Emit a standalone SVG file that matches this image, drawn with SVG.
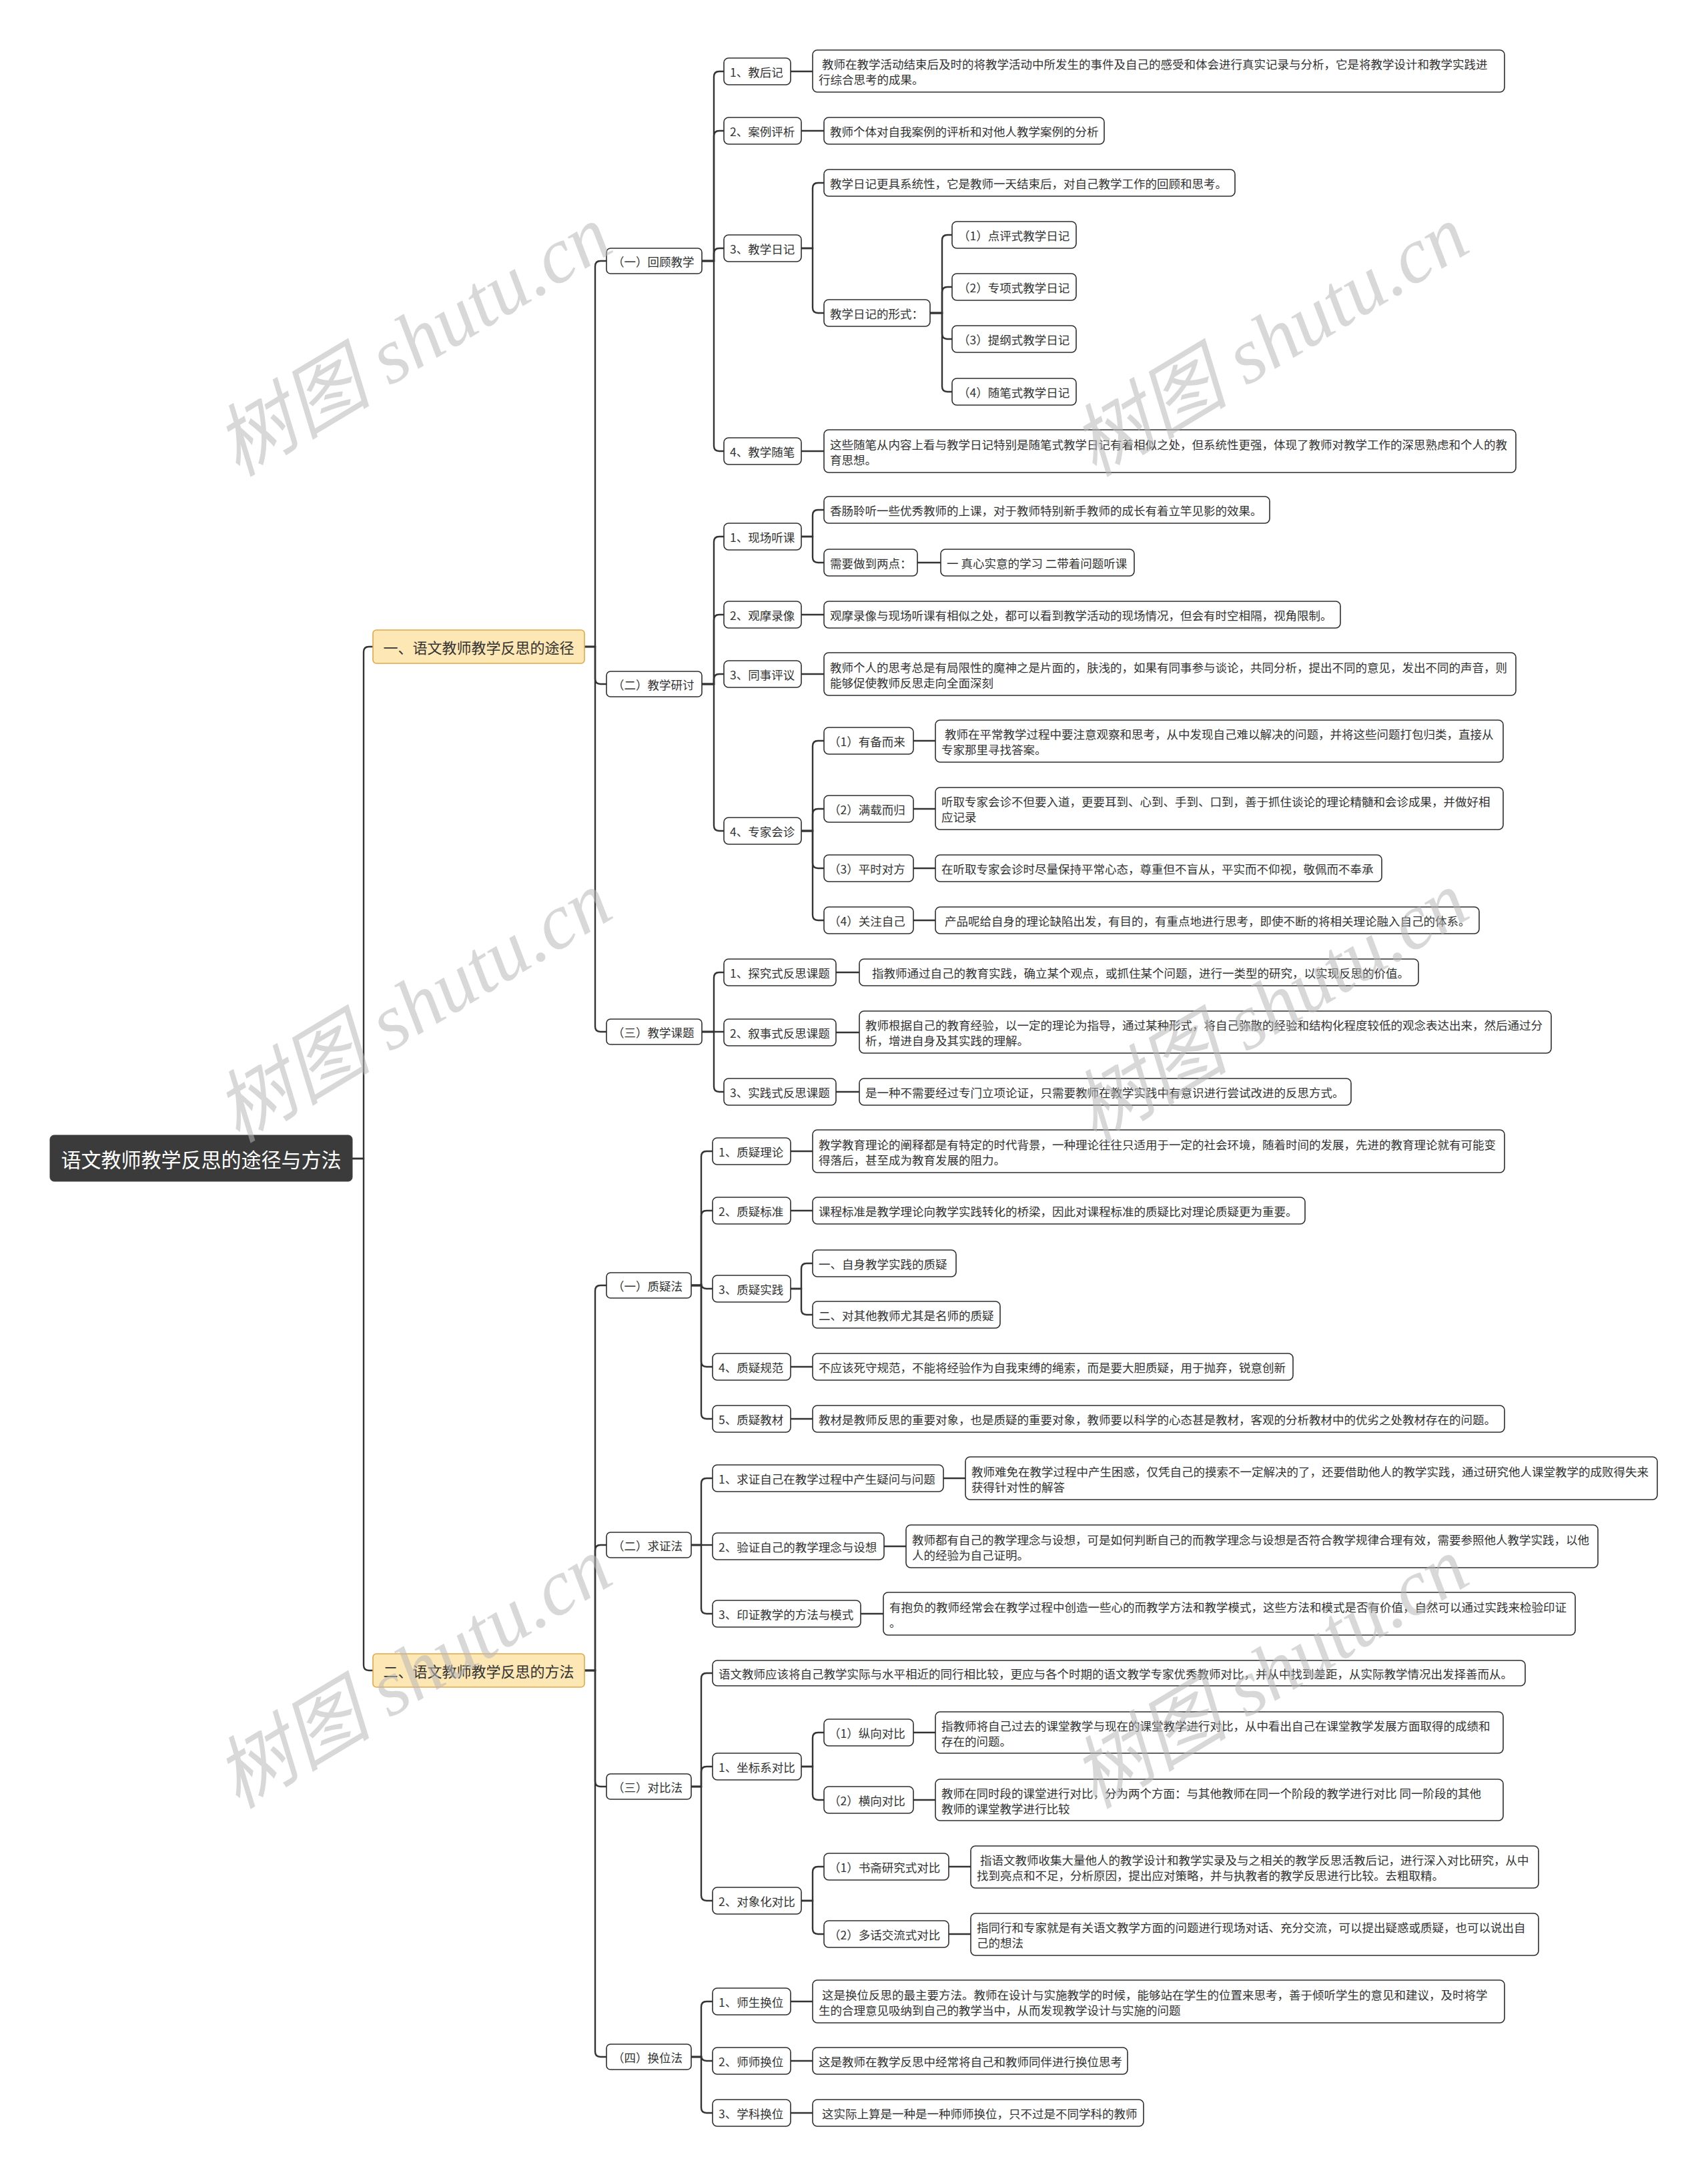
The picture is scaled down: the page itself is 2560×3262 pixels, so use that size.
<svg xmlns="http://www.w3.org/2000/svg" width="2560" height="3262" viewBox="0 0 2560 3262">
<style>
.bg{fill:#ffffff}
.n{fill:#ffffff;stroke:#2e2e2e;stroke-width:1.6}
.t{font-family:"Noto Sans CJK SC","Noto Sans",sans-serif;font-size:17.5px;fill:#333333;dominant-baseline:central}
.l1{fill:#fde7b4;stroke:#dfa84a;stroke-width:1.6}
.t1{font-family:"Noto Sans CJK SC","Noto Sans",sans-serif;font-size:22px;fill:#333333;dominant-baseline:central;text-anchor:middle}
.root{fill:#3b3b3b;stroke:#3b3b3b}
.t0{font-family:"Noto Sans CJK SC","Noto Sans",sans-serif;font-size:30px;fill:#ffffff;dominant-baseline:central;text-anchor:middle}
.c path{fill:none;stroke:#333333;stroke-width:2.4}
.wm{font-family:"Liberation Serif","Noto Sans CJK SC",serif;font-style:italic;font-size:118px;fill:#b8b8b8;fill-opacity:0.55;text-anchor:middle}
</style>
<rect class="bg" x="0" y="0" width="2560" height="3262"/>

<g class="c" id="connectors">
<path d="M528 1736 H545 V977 Q545 969 553 969 H559"/>
<path d="M528 1736 H545 V2495 Q545 2503 553 2503 H559"/>
<path d="M876 969 H892 V399 Q892 391 900 391 H909"/>
<path d="M876 969 H892 V1017 Q892 1025 900 1025 H909"/>
<path d="M876 969 H892 V1538 Q892 1546 900 1546 H909"/>
<path d="M876 2503 H892 V1934 Q892 1926 900 1926 H909"/>
<path d="M876 2503 H892 V2323 Q892 2315 900 2315 H909"/>
<path d="M876 2503 H892 V2669 Q892 2677 900 2677 H909"/>
<path d="M876 2503 H892 V3074 Q892 3082 900 3082 H909"/>
<path d="M1052 391 H1070 V115 Q1070 107 1078 107 H1085"/>
<path d="M1052 391 H1070 V204 Q1070 196 1078 196 H1085"/>
<path d="M1052 391 H1070 V380 Q1070 372 1078 372 H1085"/>
<path d="M1052 391 H1070 V668 Q1070 676 1078 676 H1085"/>
<path d="M1052 1025 H1070 V812 Q1070 804 1078 804 H1085"/>
<path d="M1052 1025 H1070 V929 Q1070 921 1078 921 H1085"/>
<path d="M1052 1025 H1070 V1018 Q1070 1010 1078 1010 H1085"/>
<path d="M1052 1025 H1070 V1237 Q1070 1245 1078 1245 H1085"/>
<path d="M1052 1546 H1070 V1465 Q1070 1457 1078 1457 H1085"/>
<path d="M1052 1546 H1085"/>
<path d="M1052 1546 H1070 V1628 Q1070 1636 1078 1636 H1085"/>
<path d="M1036 1926 H1051 V1733 Q1051 1725 1059 1725 H1068"/>
<path d="M1036 1926 H1051 V1822 Q1051 1814 1059 1814 H1068"/>
<path d="M1036 1926 H1051 V1923 Q1051 1931 1059 1931 H1068"/>
<path d="M1036 1926 H1051 V2040 Q1051 2048 1059 2048 H1068"/>
<path d="M1036 1926 H1051 V2118 Q1051 2126 1059 2126 H1068"/>
<path d="M1036 2315 H1051 V2223 Q1051 2215 1059 2215 H1068"/>
<path d="M1036 2315 H1068"/>
<path d="M1036 2315 H1051 V2410 Q1051 2418 1059 2418 H1068"/>
<path d="M1036 2677 H1051 V2515 Q1051 2507 1059 2507 H1068"/>
<path d="M1036 2677 H1051 V2655 Q1051 2647 1059 2647 H1068"/>
<path d="M1036 2677 H1051 V2840 Q1051 2848 1059 2848 H1068"/>
<path d="M1036 3082 H1051 V3007 Q1051 2999 1059 2999 H1068"/>
<path d="M1036 3082 H1051 V3080 Q1051 3088 1059 3088 H1068"/>
<path d="M1036 3082 H1051 V3158 Q1051 3166 1059 3166 H1068"/>
<path d="M1185 107 H1218"/>
<path d="M1201 196 H1235"/>
<path d="M1201 676 H1235"/>
<path d="M1201 921 H1235"/>
<path d="M1201 1010 H1235"/>
<path d="M1253 1457 H1288"/>
<path d="M1253 1547 H1288"/>
<path d="M1253 1636 H1288"/>
<path d="M1185 1725 H1218"/>
<path d="M1185 1814 H1218"/>
<path d="M1185 2048 H1218"/>
<path d="M1185 2126 H1218"/>
<path d="M1414 2215 H1447"/>
<path d="M1325 2317 H1358"/>
<path d="M1290 2418 H1324"/>
<path d="M1185 2999 H1218"/>
<path d="M1185 3088 H1218"/>
<path d="M1185 3166 H1218"/>
<path d="M1375 843 H1410"/>
<path d="M1369 1110 H1402"/>
<path d="M1369 1212 H1402"/>
<path d="M1369 1301 H1402"/>
<path d="M1369 1379 H1402"/>
<path d="M1369 2596 H1402"/>
<path d="M1369 2697 H1402"/>
<path d="M1422 2797 H1455"/>
<path d="M1422 2898 H1455"/>
<path d="M1201 372 H1218 V282 Q1218 274 1226 274 H1235"/>
<path d="M1201 372 H1218 V461 Q1218 469 1226 469 H1235"/>
<path d="M1394 469 H1412 V360 Q1412 352 1420 352 H1427"/>
<path d="M1394 469 H1412 V438 Q1412 430 1420 430 H1427"/>
<path d="M1394 469 H1412 V500 Q1412 508 1420 508 H1427"/>
<path d="M1394 469 H1412 V579 Q1412 587 1420 587 H1427"/>
<path d="M1201 804 H1218 V772 Q1218 764 1226 764 H1235"/>
<path d="M1201 804 H1218 V835 Q1218 843 1226 843 H1235"/>
<path d="M1201 1245 H1218 V1118 Q1218 1110 1226 1110 H1235"/>
<path d="M1201 1245 H1218 V1220 Q1218 1212 1226 1212 H1235"/>
<path d="M1201 1245 H1218 V1293 Q1218 1301 1226 1301 H1235"/>
<path d="M1201 1245 H1218 V1371 Q1218 1379 1226 1379 H1235"/>
<path d="M1185 1931 H1201 V1901 Q1201 1893 1209 1893 H1218"/>
<path d="M1185 1931 H1201 V1962 Q1201 1970 1209 1970 H1218"/>
<path d="M1201 2647 H1218 V2604 Q1218 2596 1226 2596 H1235"/>
<path d="M1201 2647 H1218 V2689 Q1218 2697 1226 2697 H1235"/>
<path d="M1201 2848 H1218 V2805 Q1218 2797 1226 2797 H1235"/>
<path d="M1201 2848 H1218 V2890 Q1218 2898 1226 2898 H1235"/>
</g>

<g id="root"><rect class="root" x="75" y="1701" width="453" height="69" rx="6"/><text class="t0" x="301.5" y="1736">语文教师教学反思的途径与方法</text></g>

<g id="l1-a"><rect class="l1" x="559" y="944" width="317" height="50" rx="5"/><text class="t1" x="717.5" y="969">一、语文教师教学反思的途径</text></g>
<g id="l1-b"><rect class="l1" x="559" y="2478" width="317" height="50" rx="5"/><text class="t1" x="717.5" y="2503">二、语文教师教学反思的方法</text></g>

<g id="l2-1"><rect class="n" x="909" y="372" width="143" height="38" rx="6"/><text class="t" x="918" y="391">（一）回顾教学</text></g>
<g id="l2-2"><rect class="n" x="909" y="1006" width="143" height="38" rx="6"/><text class="t" x="918" y="1025">（二）教学研讨</text></g>
<g id="l2-3"><rect class="n" x="909" y="1527" width="143" height="38" rx="6"/><text class="t" x="918" y="1546">（三）教学课题</text></g>
<g id="l2-4"><rect class="n" x="909" y="1907" width="127" height="38" rx="6"/><text class="t" x="918" y="1926">（一）质疑法</text></g>
<g id="l2-5"><rect class="n" x="909" y="2296" width="127" height="38" rx="6"/><text class="t" x="918" y="2315">（二）求证法</text></g>
<g id="l2-6"><rect class="n" x="909" y="2658" width="127" height="38" rx="6"/><text class="t" x="918" y="2677">（三）对比法</text></g>
<g id="l2-7"><rect class="n" x="909" y="3063" width="127" height="38" rx="6"/><text class="t" x="918" y="3082">（四）换位法</text></g>

<g id="n-jhj"><rect class="n" x="1085" y="87" width="100" height="40" rx="7"/><text class="t" x="1094" y="107">1、教后记</text></g>
<g id="d-jhj"><rect class="n" x="1218" y="75" width="1037" height="63" rx="7"/><text class="t"><tspan x="1232" y="95">教师在教学活动结束后及时的将教学活动中所发生的事件及自己的感受和体会进行真实记录与分析，它是将教学设计和教学实践进</tspan><tspan x="1227" y="118">行综合思考的成果。</tspan></text></g>
<g id="n-alpx"><rect class="n" x="1085" y="176" width="116" height="40" rx="7"/><text class="t" x="1094" y="196">2、案例评析</text></g>
<g id="d-alpx"><rect class="n" x="1235" y="176" width="420" height="40" rx="7"/><text class="t" x="1244" y="196">教师个体对自我案例的评析和对他人教学案例的分析</text></g>
<g id="n-jxrj"><rect class="n" x="1085" y="352" width="116" height="40" rx="7"/><text class="t" x="1094" y="372">3、教学日记</text></g>
<g id="d-jxrj1"><rect class="n" x="1235" y="254" width="616" height="40" rx="7"/><text class="t" x="1244" y="274">教学日记更具系统性，它是教师一天结束后，对自己教学工作的回顾和思考。</text></g>
<g id="n-xs"><rect class="n" x="1235" y="449" width="159" height="40" rx="7"/><text class="t" x="1244" y="469">教学日记的形式：</text></g>
<g id="n-xs1"><rect class="n" x="1427" y="332" width="186" height="40" rx="7"/><text class="t" x="1436" y="352">（1）点评式教学日记</text></g>
<g id="n-xs2"><rect class="n" x="1427" y="410" width="186" height="40" rx="7"/><text class="t" x="1436" y="430">（2）专项式教学日记</text></g>
<g id="n-xs3"><rect class="n" x="1427" y="488" width="186" height="40" rx="7"/><text class="t" x="1436" y="508">（3）提纲式教学日记</text></g>
<g id="n-xs4"><rect class="n" x="1427" y="567" width="186" height="40" rx="7"/><text class="t" x="1436" y="587">（4）随笔式教学日记</text></g>
<g id="n-jxsb"><rect class="n" x="1085" y="656" width="116" height="40" rx="7"/><text class="t" x="1094" y="676">4、教学随笔</text></g>
<g id="d-jxsb"><rect class="n" x="1235" y="644" width="1037" height="64" rx="7"/><text class="t"><tspan x="1244" y="664.5">这些随笔从内容上看与教学日记特别是随笔式教学日记有着相似之处，但系统性更强，体现了教师对教学工作的深思熟虑和个人的教</tspan><tspan x="1244" y="687.5">育思想。</tspan></text></g>

<g id="n-xctk"><rect class="n" x="1085" y="784" width="116" height="40" rx="7"/><text class="t" x="1094" y="804">1、现场听课</text></g>
<g id="d-xctk1"><rect class="n" x="1235" y="744" width="668" height="40" rx="7"/><text class="t" x="1244" y="764">香肠聆听一些优秀教师的上课，对于教师特别新手教师的成长有着立竿见影的效果。</text></g>
<g id="n-ld"><rect class="n" x="1235" y="823" width="140" height="40" rx="7"/><text class="t" x="1244" y="843">需要做到两点：</text></g>
<g id="d-ld"><rect class="n" x="1410" y="823" width="290" height="40" rx="7"/><text class="t" x="1419" y="843">一 真心实意的学习 二带着问题听课</text></g>
<g id="n-gmlx"><rect class="n" x="1085" y="901" width="116" height="40" rx="7"/><text class="t" x="1094" y="921">2、观摩录像</text></g>
<g id="d-gmlx"><rect class="n" x="1235" y="901" width="774" height="40" rx="7"/><text class="t" x="1244" y="921">观摩录像与现场听课有相似之处，都可以看到教学活动的现场情况，但会有时空相隔，视角限制。</text></g>
<g id="n-tspy"><rect class="n" x="1085" y="990" width="116" height="40" rx="7"/><text class="t" x="1094" y="1010">3、同事评议</text></g>
<g id="d-tspy"><rect class="n" x="1235" y="978" width="1037" height="64" rx="7"/><text class="t"><tspan x="1244" y="998.5">教师个人的思考总是有局限性的魔神之是片面的，肤浅的，如果有同事参与谈论，共同分析，提出不同的意见，发出不同的声音，则</tspan><tspan x="1244" y="1021.5">能够促使教师反思走向全面深刻</tspan></text></g>
<g id="n-zjhz"><rect class="n" x="1085" y="1225" width="116" height="40" rx="7"/><text class="t" x="1094" y="1245">4、专家会诊</text></g>
<g id="n-ybel"><rect class="n" x="1235" y="1090" width="134" height="40" rx="7"/><text class="t" x="1242" y="1110">（1）有备而来</text></g>
<g id="d-ybel"><rect class="n" x="1402" y="1079" width="851" height="63" rx="7"/><text class="t"><tspan x="1416" y="1099">教师在平常教学过程中要注意观察和思考，从中发现自己难以解决的问题，并将这些问题打包归类，直接从</tspan><tspan x="1411" y="1122">专家那里寻找答案。</tspan></text></g>
<g id="n-mzeg"><rect class="n" x="1235" y="1192" width="134" height="40" rx="7"/><text class="t" x="1242" y="1212">（2）满载而归</text></g>
<g id="d-mzeg"><rect class="n" x="1402" y="1180" width="851" height="63" rx="7"/><text class="t"><tspan x="1411" y="1200">听取专家会诊不但要入道，更要耳到、心到、手到、口到，善于抓住谈论的理论精髓和会诊成果，并做好相</tspan><tspan x="1411" y="1223">应记录</tspan></text></g>
<g id="n-psdf"><rect class="n" x="1235" y="1281" width="134" height="40" rx="7"/><text class="t" x="1242" y="1301">（3）平时对方</text></g>
<g id="d-psdf"><rect class="n" x="1402" y="1281" width="669" height="40" rx="7"/><text class="t" x="1411" y="1301">在听取专家会诊时尽量保持平常心态，尊重但不盲从，平实而不仰视，敬佩而不奉承</text></g>
<g id="n-gzzj"><rect class="n" x="1235" y="1359" width="134" height="40" rx="7"/><text class="t" x="1242" y="1379">（4）关注自己</text></g>
<g id="d-gzzj"><rect class="n" x="1402" y="1359" width="815" height="40" rx="7"/><text class="t" x="1416" y="1379">产品呢给自身的理论缺陷出发，有目的，有重点地进行思考，即使不断的将相关理论融入自己的体系。</text></g>

<g id="n-tjs"><rect class="n" x="1085" y="1437" width="168" height="40" rx="7"/><text class="t" x="1094" y="1457">1、探究式反思课题</text></g>
<g id="d-tjs"><rect class="n" x="1288" y="1437" width="838" height="40" rx="7"/><text class="t" x="1307" y="1457">指教师通过自己的教育实践，确立某个观点，或抓住某个问题，进行一类型的研究，以实现反思的价值。</text></g>
<g id="n-xss"><rect class="n" x="1085" y="1527" width="168" height="40" rx="7"/><text class="t" x="1094" y="1547">2、叙事式反思课题</text></g>
<g id="d-xss"><rect class="n" x="1288" y="1515" width="1037" height="63" rx="7"/><text class="t"><tspan x="1297" y="1535">教师根据自己的教育经验，以一定的理论为指导，通过某种形式，将自己弥散的经验和结构化程度较低的观念表达出来，然后通过分</tspan><tspan x="1297" y="1558">析，增进自身及其实践的理解。</tspan></text></g>
<g id="n-sjs"><rect class="n" x="1085" y="1616" width="168" height="40" rx="7"/><text class="t" x="1094" y="1636">3、实践式反思课题</text></g>
<g id="d-sjs"><rect class="n" x="1288" y="1616" width="737" height="40" rx="7"/><text class="t" x="1297" y="1636">是一种不需要经过专门立项论证，只需要教师在教学实践中有意识进行尝试改进的反思方式。</text></g>

<g id="n-zyll"><rect class="n" x="1068" y="1705" width="117" height="40" rx="7"/><text class="t" x="1077" y="1725">1、质疑理论</text></g>
<g id="d-zyll"><rect class="n" x="1218" y="1693" width="1037" height="64" rx="7"/><text class="t"><tspan x="1227" y="1713.5">教学教育理论的阐释都是有特定的时代背景，一种理论往往只适用于一定的社会环境，随着时间的发展，先进的教育理论就有可能变</tspan><tspan x="1227" y="1736.5">得落后，甚至成为教育发展的阻力。</tspan></text></g>
<g id="n-zybz"><rect class="n" x="1068" y="1794" width="117" height="40" rx="7"/><text class="t" x="1077" y="1814">2、质疑标准</text></g>
<g id="d-zybz"><rect class="n" x="1218" y="1794" width="738" height="40" rx="7"/><text class="t" x="1227" y="1814">课程标准是教学理论向教学实践转化的桥梁，因此对课程标准的质疑比对理论质疑更为重要。</text></g>
<g id="n-zysj"><rect class="n" x="1068" y="1911" width="117" height="40" rx="7"/><text class="t" x="1077" y="1931">3、质疑实践</text></g>
<g id="n-zysj1"><rect class="n" x="1218" y="1873" width="215" height="40" rx="7"/><text class="t" x="1227" y="1893">一、自身教学实践的质疑</text></g>
<g id="n-zysj2"><rect class="n" x="1218" y="1950" width="281" height="40" rx="7"/><text class="t" x="1227" y="1970">二、对其他教师尤其是名师的质疑</text></g>
<g id="n-zygf"><rect class="n" x="1068" y="2028" width="117" height="40" rx="7"/><text class="t" x="1077" y="2048">4、质疑规范</text></g>
<g id="d-zygf"><rect class="n" x="1218" y="2028" width="720" height="40" rx="7"/><text class="t" x="1227" y="2048">不应该死守规范，不能将经验作为自我束缚的绳索，而是要大胆质疑，用于抛弃，锐意创新</text></g>
<g id="n-zyjc"><rect class="n" x="1068" y="2106" width="117" height="40" rx="7"/><text class="t" x="1077" y="2126">5、质疑教材</text></g>
<g id="d-zyjc"><rect class="n" x="1218" y="2106" width="1037" height="40" rx="7"/><text class="t" x="1227" y="2126">教材是教师反思的重要对象，也是质疑的重要对象，教师要以科学的心态甚是教材，客观的分析教材中的优劣之处教材存在的问题。</text></g>

<g id="n-qz1"><rect class="n" x="1068" y="2195" width="346" height="40" rx="7"/><text class="t" x="1077" y="2215">1、求证自己在教学过程中产生疑问与问题</text></g>
<g id="d-qz1"><rect class="n" x="1447" y="2183" width="1037" height="64" rx="7"/><text class="t"><tspan x="1456" y="2203.5">教师难免在教学过程中产生困惑，仅凭自己的摸索不一定解决的了，还要借助他人的教学实践，通过研究他人课堂教学的成败得失来</tspan><tspan x="1456" y="2226.5">获得针对性的解答</tspan></text></g>
<g id="n-qz2"><rect class="n" x="1068" y="2297" width="257" height="40" rx="7"/><text class="t" x="1077" y="2317">2、验证自己的教学理念与设想</text></g>
<g id="d-qz2"><rect class="n" x="1358" y="2285" width="1037" height="64" rx="7"/><text class="t"><tspan x="1367" y="2305.5">教师都有自己的教学理念与设想，可是如何判断自己的而教学理念与设想是否符合教学规律合理有效，需要参照他人教学实践，以他</tspan><tspan x="1367" y="2328.5">人的经验为自己证明。</tspan></text></g>
<g id="n-qz3"><rect class="n" x="1068" y="2398" width="222" height="40" rx="7"/><text class="t" x="1077" y="2418">3、印证教学的方法与模式</text></g>
<g id="d-qz3"><rect class="n" x="1324" y="2386" width="1037" height="64" rx="7"/><text class="t"><tspan x="1333" y="2406.5">有抱负的教师经常会在教学过程中创造一些心的而教学方法和教学模式，这些方法和模式是否有价值，自然可以通过实践来检验印证</tspan><tspan x="1333" y="2429.5">。</tspan></text></g>

<g id="d-db0"><rect class="n" x="1068" y="2488" width="1218" height="38" rx="7"/><text class="t" x="1077" y="2507">语文教师应该将自己教学实际与水平相近的同行相比较，更应与各个时期的语文教学专家优秀教师对比，并从中找到差距，从实际教学情况出发择善而从。</text></g>
<g id="n-zbx"><rect class="n" x="1068" y="2627" width="133" height="40" rx="7"/><text class="t" x="1077" y="2647">1、坐标系对比</text></g>
<g id="n-zxdb"><rect class="n" x="1235" y="2576" width="134" height="40" rx="7"/><text class="t" x="1242" y="2596">（1）纵向对比</text></g>
<g id="d-zxdb"><rect class="n" x="1402" y="2565" width="851" height="62" rx="7"/><text class="t"><tspan x="1411" y="2584.5">指教师将自己过去的课堂教学与现在的课堂教学进行对比，从中看出自己在课堂教学发展方面取得的成绩和</tspan><tspan x="1411" y="2607.5">存在的问题。</tspan></text></g>
<g id="n-hxdb"><rect class="n" x="1235" y="2677" width="134" height="40" rx="7"/><text class="t" x="1242" y="2697">（2）横向对比</text></g>
<g id="d-hxdb"><rect class="n" x="1402" y="2666" width="851" height="62" rx="7"/><text class="t"><tspan x="1411" y="2685.5">教师在同时段的课堂进行对比，分为两个方面：与其他教师在同一个阶段的教学进行对比 同一阶段的其他</tspan><tspan x="1411" y="2708.5">教师的课堂教学进行比较</tspan></text></g>
<g id="n-dxh"><rect class="n" x="1068" y="2828" width="133" height="40" rx="7"/><text class="t" x="1077" y="2848">2、对象化对比</text></g>
<g id="n-szyj"><rect class="n" x="1235" y="2777" width="187" height="40" rx="7"/><text class="t" x="1242" y="2797">（1）书斋研究式对比</text></g>
<g id="d-szyj"><rect class="n" x="1455" y="2766" width="851" height="63" rx="7"/><text class="t"><tspan x="1469" y="2786">指语文教师收集大量他人的教学设计和教学实录及与之相关的教学反思活教后记，进行深入对比研究，从中</tspan><tspan x="1464" y="2809">找到亮点和不足，分析原因，提出应对策略，并与执教者的教学反思进行比较。去粗取精。</tspan></text></g>
<g id="n-dhjl"><rect class="n" x="1235" y="2878" width="187" height="40" rx="7"/><text class="t" x="1242" y="2898">（2）多话交流式对比</text></g>
<g id="d-dhjl"><rect class="n" x="1455" y="2867" width="851" height="63" rx="7"/><text class="t"><tspan x="1464" y="2887">指同行和专家就是有关语文教学方面的问题进行现场对话、充分交流，可以提出疑惑或质疑，也可以说出自</tspan><tspan x="1464" y="2910">己的想法</tspan></text></g>

<g id="n-sshw"><rect class="n" x="1068" y="2979" width="117" height="40" rx="7"/><text class="t" x="1077" y="2999">1、师生换位</text></g>
<g id="d-sshw"><rect class="n" x="1218" y="2967" width="1037" height="64" rx="7"/><text class="t"><tspan x="1232" y="2987.5">这是换位反思的最主要方法。教师在设计与实施教学的时候，能够站在学生的位置来思考，善于倾听学生的意见和建议，及时将学</tspan><tspan x="1227" y="3010.5">生的合理意见吸纳到自己的教学当中，从而发现教学设计与实施的问题</tspan></text></g>
<g id="n-sshw2"><rect class="n" x="1068" y="3068" width="117" height="40" rx="7"/><text class="t" x="1077" y="3088">2、师师换位</text></g>
<g id="d-sshw2"><rect class="n" x="1218" y="3068" width="472" height="40" rx="7"/><text class="t" x="1227" y="3088">这是教师在教学反思中经常将自己和教师同伴进行换位思考</text></g>
<g id="n-xkhw"><rect class="n" x="1068" y="3146" width="117" height="40" rx="7"/><text class="t" x="1077" y="3166">3、学科换位</text></g>
<g id="d-xkhw"><rect class="n" x="1218" y="3146" width="496" height="40" rx="7"/><text class="t" x="1232" y="3166">这实际上算是一种是一种师师换位，只不过是不同学科的教师</text></g>

<g id="watermark">
<text class="wm" transform="translate(640 545) rotate(-31)">树图 shutu.cn</text>
<text class="wm" transform="translate(1924 545) rotate(-31)">树图 shutu.cn</text>
<text class="wm" transform="translate(640 1543) rotate(-31)">树图 shutu.cn</text>
<text class="wm" transform="translate(1924 1543) rotate(-31)">树图 shutu.cn</text>
<text class="wm" transform="translate(640 2541) rotate(-31)">树图 shutu.cn</text>
<text class="wm" transform="translate(1924 2541) rotate(-31)">树图 shutu.cn</text>
</g>
</svg>
